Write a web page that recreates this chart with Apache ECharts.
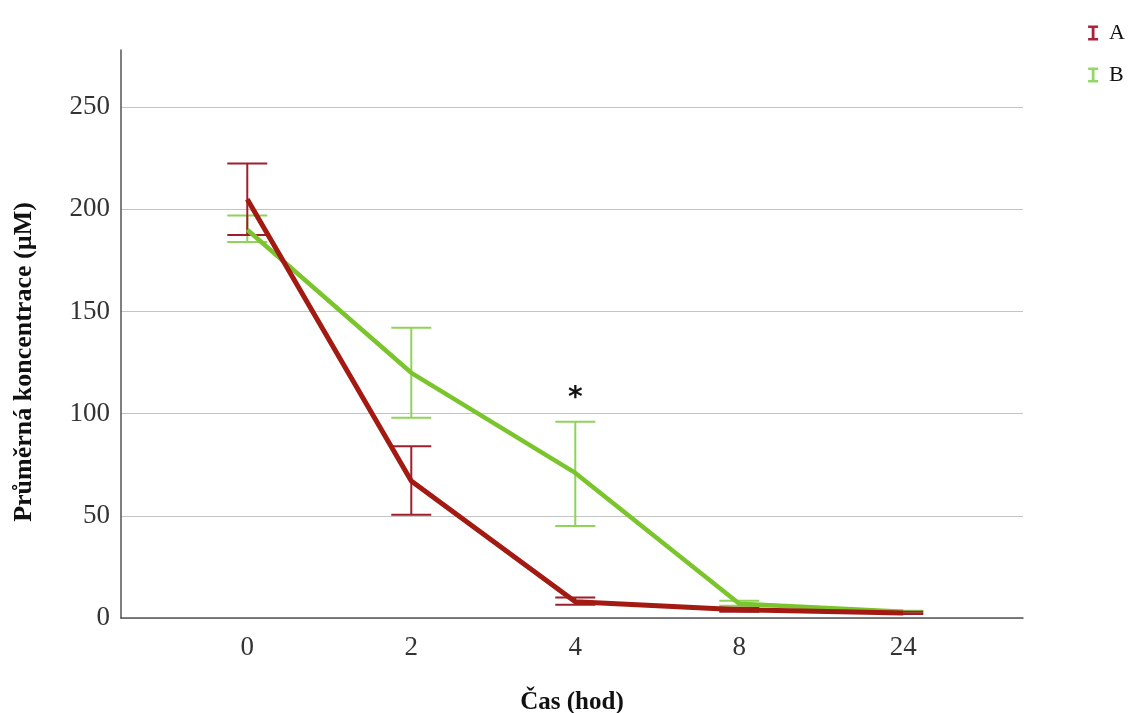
<!DOCTYPE html>
<html>
<head>
<meta charset="utf-8">
<script src="https://cdn.jsdelivr.net/npm/echarts@6/dist/echarts.min.js"></script>
<style>html,body{margin:0;padding:0;background:#fff}#c{width:1135px;height:713px}</style>
</head>
<body>
<div id="c"></div>
<script>
const categories = ['0', '2', '4', '8', '24'];
const yTicks = [0, 50, 100, 150, 200, 250];
const meanA = [205, 67, 8, 4, 2.5];
const lowA  = [187.5, 50.5, 6.5, 3, 2];
const highA = [222.5, 84, 10, 5, 3];
const meanB = [190, 120, 71, 7, 3];
const lowB  = [184, 98, 45, 6, 2.5];
const highB = [197, 142, 96, 8.5, 3.5];
const starLabel = '*';
const starAt = [2, 107.5];

const chart = echarts.init(document.getElementById('c'));
const idx = categories.map((c, i) => i);
const lineData = m => idx.map(i => [i, m[i]]);
const errData = (lo, hi) => idx.map(i => [i, lo[i], hi[i]]);

function errRender(color) {
  return function (params, api) {
    const x = api.value(0);
    const p1 = api.coord([x, api.value(1)]);
    const p2 = api.coord([x, api.value(2)]);
    const hw = 20;
    const st = { stroke: color, lineWidth: 2 };
    return {
      type: 'group',
      children: [
        { type: 'line', shape: { x1: p1[0], y1: p1[1], x2: p2[0], y2: p2[1] }, style: st },
        { type: 'line', shape: { x1: p1[0] - hw, y1: p1[1], x2: p1[0] + hw, y2: p1[1] }, style: st },
        { type: 'line', shape: { x1: p2[0] - hw, y1: p2[1], x2: p2[0] + hw, y2: p2[1] }, style: st }
      ]
    };
  };
}

const ibeam = 'path://M0,0H10V2.4H6.4V12.6H10V15H0V12.6H3.6V2.4H0Z';
const serif = "'Liberation Serif', 'DejaVu Serif', serif";

chart.setOption({
  animation: false,
  backgroundColor: '#fff',
  grid: { left: 121, right: 112, top: 50, bottom: 95, outerBoundsMode: 'none', containLabel: false },
  legend: {
    data: [{ name: 'A', icon: ibeam, itemStyle: { color: '#a8243a' } }, { name: 'B', icon: ibeam, itemStyle: { color: '#93d867' } }],
    orient: 'vertical',
    right: 5,
    top: 17,
    itemWidth: 10,
    itemHeight: 15,
    itemGap: 20,
    textStyle: { fontFamily: serif, fontSize: 22, color: '#111', padding: [0, 0, 0, 6] }
  },
  xAxis: {
    type: 'value',
    min: -0.77,
    max: 4.73,
    name: 'Čas (hod)',
    nameLocation: 'middle',
    nameGap: 72,
    nameTextStyle: { fontFamily: serif, fontWeight: 'bold', fontSize: 25, color: '#111' },
    axisLine: { show: true, onZero: false, lineStyle: { color: '#555', width: 1.5 } },
    axisTick: { show: false, customValues: idx },
    axisLabel: { customValues: idx, formatter: v => categories[Math.round(v)], fontFamily: serif, fontSize: 27, color: '#333', margin: 16 },
    splitLine: { show: false }
  },
  yAxis: {
    type: 'value',
    min: 0,
    max: 278,
    axisLine: { show: true, onZero: false, lineStyle: { color: '#555', width: 1.5 } },
    axisTick: { show: false, customValues: yTicks },
    axisLabel: { customValues: yTicks, fontFamily: serif, fontSize: 27, color: '#333', margin: 11 },
    splitLine: { show: true, lineStyle: { color: '#c4c4c4', width: 1.2 } }
  },
  graphic: [{
    type: 'text',
    rotation: Math.PI / 2,
    x: 24, y: 362,
    style: { text: 'Průměrná koncentrace (µM)', font: "bold 26px 'Liberation Serif', serif", fill: '#111', textAlign: 'center', textVerticalAlign: 'middle' }
  }],
  series: [
    { name: 'B_err', type: 'custom', renderItem: errRender('#8fd35a'), data: errData(lowB, highB), z: 2, encode: { x: 0, y: [1, 2] }, silent: true },
    { name: 'A_err', type: 'custom', renderItem: errRender('#9e1f2c'), data: errData(lowA, highA), z: 3, encode: { x: 0, y: [1, 2] }, silent: true },
    { name: 'B', type: 'line', data: lineData(meanB), symbol: 'none', color: '#7ac52c', lineStyle: { width: 4.5, color: '#7ac52c' }, z: 4,
      markPoint: { symbol: 'circle', symbolSize: 0, data: [{ coord: starAt, label: { show: true, formatter: starLabel, fontFamily: "'DejaVu Sans', sans-serif", fontWeight: 'bold', fontSize: 28, color: '#111' } }] } },
    { name: 'A', type: 'line', data: lineData(meanA), symbol: 'none', color: '#a31a12', lineStyle: { width: 5, color: '#a31a12' }, z: 5 }
  ]
});
</script>
</body>
</html>
